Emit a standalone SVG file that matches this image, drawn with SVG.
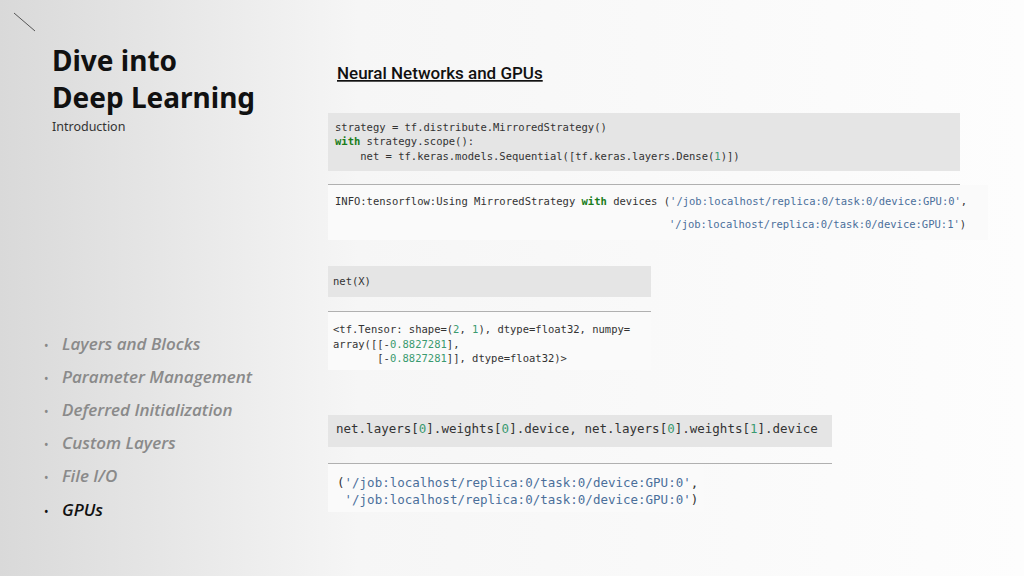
<svg xmlns="http://www.w3.org/2000/svg" width="1024" height="576" viewBox="0 0 1024 576">
<style>
.m{font-family:"DejaVu Sans Mono","Liberation Mono",monospace;font-size:10.5px;fill:#333;white-space:pre}
.m2{font-family:"DejaVu Sans Mono","Liberation Mono",monospace;font-size:12.5px;fill:#333;white-space:pre}
.k{fill:#1b7d1b;font-weight:bold}.s{fill:#4a6f9a}.n{fill:#3a9a70}
.cb{fill:#e5e5e5}.ob{fill:#fafafa}.sep{stroke:#b0b0b0;stroke-width:1}
.it{font-family:"Open Sans","Noto Sans",sans-serif;font-style:italic;font-weight:600;font-size:17px;fill:#8a8a8a}
.bu{font-family:"Noto Sans",sans-serif;font-size:12px;fill:#888}
</style>
<defs><linearGradient id="bg" x1="0" x2="1" y1="0" y2="0"><stop offset="0" stop-color="#d9d9d9"/><stop offset="0.35" stop-color="#f6f6f6"/><stop offset="1" stop-color="#fdfdfd"/></linearGradient></defs>
<rect width="1024" height="576" fill="url(#bg)"/>
<line x1="14" y1="13" x2="35" y2="31" stroke="#555" stroke-width="1"/>
<g id="title" font-family="'Noto Sans',sans-serif" font-weight="bold" font-size="28" fill="#111">
<text x="52" y="71">Dive into</text><text x="52" y="108">Deep Learning</text></g>
<text x="52" y="131" font-family="'Noto Sans',sans-serif" font-size="12.5" fill="#333">Introduction</text>
<text x="337" y="79" font-family="Roboto,sans-serif" font-weight="500" font-size="17" fill="#111" text-decoration="underline">Neural Networks and GPUs</text>
<g id="menu">
<text class="bu" x="44" y="350">•</text><text class="it" x="62" y="350">Layers and Blocks</text>
<text class="bu" x="44" y="383">•</text><text class="it" x="62" y="383">Parameter Management</text>
<text class="bu" x="44" y="416">•</text><text class="it" x="62" y="416">Deferred Initialization</text>
<text class="bu" x="44" y="449">•</text><text class="it" x="62" y="449">Custom Layers</text>
<text class="bu" x="44" y="482">•</text><text class="it" x="62" y="482">File I/O</text>
<text class="bu" x="44" y="516" style="fill:#111">•</text><text class="it" x="62" y="516" style="fill:#111">GPUs</text>
</g>
<g id="code1">
<rect class="cb" x="328" y="113" width="632" height="58"/>
<text class="m" x="335" y="131">strategy = tf.distribute.MirroredStrategy()</text>
<text class="m" x="335" y="145"><tspan class="k">with</tspan> strategy.scope():</text>
<text class="m" x="335" y="160">    net = tf.keras.models.Sequential([tf.keras.layers.Dense(<tspan class="n">1</tspan>)])</text>
<rect class="ob" x="328" y="185" width="660" height="55"/>
<line class="sep" x1="328" y1="184.5" x2="960" y2="184.5"/>
<text class="m" x="335" y="205">INFO:tensorflow:Using MirroredStrategy <tspan class="k">with</tspan> devices (<tspan class="s">'/job:localhost/replica:0/task:0/device:GPU:0'</tspan>,</text>
<text class="m" x="669" y="228"><tspan class="s">'/job:localhost/replica:0/task:0/device:GPU:1'</tspan>)</text>
</g>
<g id="code2">
<rect class="cb" x="328" y="266" width="323" height="31"/>
<text class="m" x="333" y="285">net(X)</text>
<rect class="ob" x="328" y="312" width="323" height="58"/>
<line class="sep" x1="328" y1="311.5" x2="651" y2="311.5"/>
<text class="m" x="333" y="333">&lt;tf.Tensor: shape=(<tspan class="n">2</tspan>, <tspan class="n">1</tspan>), dtype=float32, numpy=</text>
<text class="m" x="333" y="348">array([[-<tspan class="n">0.8827281</tspan>],</text>
<text class="m" x="333" y="362">       [-<tspan class="n">0.8827281</tspan>]], dtype=float32)&gt;</text>
</g>
<g id="code3">
<rect class="cb" x="328" y="415" width="504" height="32"/>
<text class="m2" x="336" y="433">net.layers[<tspan class="n">0</tspan>].weights[<tspan class="n">0</tspan>].device, net.layers[<tspan class="n">0</tspan>].weights[<tspan class="n">1</tspan>].device</text>
<rect class="ob" x="328" y="464" width="376" height="48"/>
<line class="sep" x1="328" y1="463.5" x2="832" y2="463.5"/>
<text class="m2" x="337" y="487">(<tspan class="s">'/job:localhost/replica:0/task:0/device:GPU:0'</tspan>,</text>
<text class="m2" x="337" y="504"> <tspan class="s">'/job:localhost/replica:0/task:0/device:GPU:0'</tspan>)</text>
</g>
<g id="connectors"/>
</svg>
